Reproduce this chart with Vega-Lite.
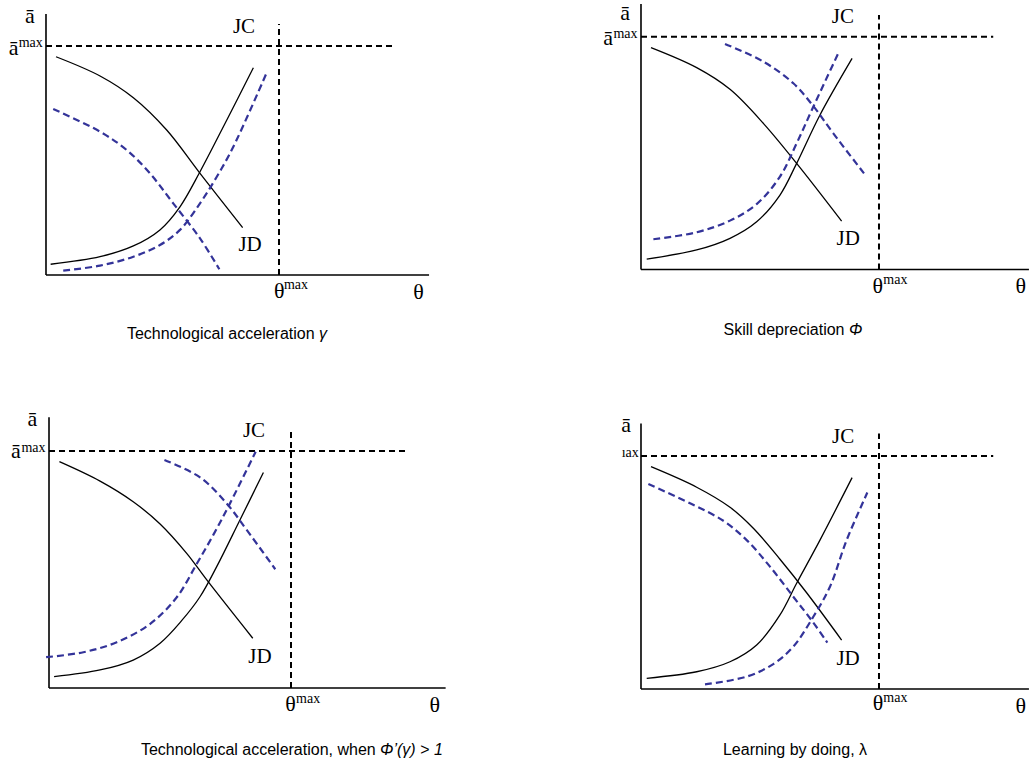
{
  "$schema": "https://vega.github.io/schema/vega-lite/v6.json",
  "padding": 0,
  "spacing": 0,
  "config": {"view": {"stroke": null}, "concat": {"spacing": 0}},
  "data": {"values": [
    {"p":1,"role":"axis","x":0,"y":0,"x2":0,"y2":1.14},
    {"p":1,"role":"axis","x":0,"y":0,"x2":1.644,"y2":0},
    {"p":1,"role":"guide","x":0,"y":1,"x2":1.485,"y2":1},
    {"p":1,"role":"guide","x":1,"y":0,"x2":1,"y2":1.096},
    {"p":2,"role":"axis","x":0,"y":0,"x2":0,"y2":1.14},
    {"p":2,"role":"axis","x":0,"y":0,"x2":1.63,"y2":0},
    {"p":2,"role":"guide","x":0,"y":1,"x2":1.48,"y2":1},
    {"p":2,"role":"guide","x":1,"y":0,"x2":1,"y2":1.093},
    {"p":3,"role":"axis","x":0,"y":0,"x2":0,"y2":1.142},
    {"p":3,"role":"axis","x":0,"y":0,"x2":1.639,"y2":0},
    {"p":3,"role":"guide","x":0,"y":1,"x2":1.481,"y2":1},
    {"p":3,"role":"guide","x":1,"y":0,"x2":1,"y2":1.096},
    {"p":4,"role":"axis","x":0,"y":0,"x2":0,"y2":1.14},
    {"p":4,"role":"axis","x":0,"y":0,"x2":1.63,"y2":0},
    {"p":4,"role":"guide","x":0,"y":1,"x2":1.48,"y2":1},
    {"p":4,"role":"guide","x":1,"y":0,"x2":1,"y2":1.097},

    {"p":1,"role":"black","id":"JD","x":0.043,"y":0.953},
    {"p":1,"role":"black","id":"JD","x":0.232,"y":0.869},
    {"p":1,"role":"black","id":"JD","x":0.375,"y":0.774},
    {"p":1,"role":"black","id":"JD","x":0.518,"y":0.633},
    {"p":1,"role":"black","id":"JD","x":0.661,"y":0.444},
    {"p":1,"role":"black","id":"JD","x":0.844,"y":0.207},
    {"p":1,"role":"black","id":"JC","x":0.020,"y":0.047},
    {"p":1,"role":"black","id":"JC","x":0.232,"y":0.080},
    {"p":1,"role":"black","id":"JC","x":0.375,"y":0.127},
    {"p":1,"role":"black","id":"JC","x":0.489,"y":0.197},
    {"p":1,"role":"black","id":"JC","x":0.575,"y":0.298},
    {"p":1,"role":"black","id":"JC","x":0.661,"y":0.451},
    {"p":1,"role":"black","id":"JC","x":0.776,"y":0.677},
    {"p":1,"role":"black","id":"JC","x":0.890,"y":0.905},
    {"p":1,"role":"blue","id":"JD","x":0.031,"y":0.725},
    {"p":1,"role":"blue","id":"JD","x":0.232,"y":0.626},
    {"p":1,"role":"blue","id":"JD","x":0.346,"y":0.546},
    {"p":1,"role":"blue","id":"JD","x":0.446,"y":0.444},
    {"p":1,"role":"blue","id":"JD","x":0.546,"y":0.313},
    {"p":1,"role":"blue","id":"JD","x":0.661,"y":0.160},
    {"p":1,"role":"blue","id":"JD","x":0.744,"y":0.025},
    {"p":1,"role":"blue","id":"JC","x":0.074,"y":0.019},
    {"p":1,"role":"blue","id":"JC","x":0.232,"y":0.041},
    {"p":1,"role":"blue","id":"JC","x":0.375,"y":0.080},
    {"p":1,"role":"blue","id":"JC","x":0.489,"y":0.131},
    {"p":1,"role":"blue","id":"JC","x":0.575,"y":0.197},
    {"p":1,"role":"blue","id":"JC","x":0.661,"y":0.313},
    {"p":1,"role":"blue","id":"JC","x":0.733,"y":0.429},
    {"p":1,"role":"blue","id":"JC","x":0.804,"y":0.560},
    {"p":1,"role":"blue","id":"JC","x":0.947,"y":0.883},

    {"p":2,"role":"black","id":"JD","x":0.042,"y":0.953},
    {"p":2,"role":"black","id":"JD","x":0.234,"y":0.867},
    {"p":2,"role":"black","id":"JD","x":0.374,"y":0.774},
    {"p":2,"role":"black","id":"JD","x":0.514,"y":0.628},
    {"p":2,"role":"black","id":"JD","x":0.654,"y":0.456},
    {"p":2,"role":"black","id":"JD","x":0.843,"y":0.208},
    {"p":2,"role":"black","id":"JC","x":0.024,"y":0.045},
    {"p":2,"role":"black","id":"JC","x":0.234,"y":0.084},
    {"p":2,"role":"black","id":"JC","x":0.374,"y":0.134},
    {"p":2,"role":"black","id":"JC","x":0.486,"y":0.205},
    {"p":2,"role":"black","id":"JC","x":0.584,"y":0.320},
    {"p":2,"role":"black","id":"JC","x":0.654,"y":0.456},
    {"p":2,"role":"black","id":"JC","x":0.752,"y":0.664},
    {"p":2,"role":"black","id":"JC","x":0.887,"y":0.907},
    {"p":2,"role":"blue","id":"JD","x":0.353,"y":0.969},
    {"p":2,"role":"blue","id":"JD","x":0.514,"y":0.893},
    {"p":2,"role":"blue","id":"JD","x":0.640,"y":0.800},
    {"p":2,"role":"blue","id":"JD","x":0.724,"y":0.702},
    {"p":2,"role":"blue","id":"JD","x":0.808,"y":0.585},
    {"p":2,"role":"blue","id":"JD","x":0.937,"y":0.413},
    {"p":2,"role":"blue","id":"JC","x":0.052,"y":0.130},
    {"p":2,"role":"blue","id":"JC","x":0.234,"y":0.160},
    {"p":2,"role":"blue","id":"JC","x":0.374,"y":0.210},
    {"p":2,"role":"blue","id":"JC","x":0.486,"y":0.281},
    {"p":2,"role":"blue","id":"JC","x":0.584,"y":0.399},
    {"p":2,"role":"blue","id":"JC","x":0.654,"y":0.542},
    {"p":2,"role":"blue","id":"JC","x":0.724,"y":0.699},
    {"p":2,"role":"blue","id":"JC","x":0.829,"y":0.929},

    {"p":3,"role":"black","id":"JD","x":0.043,"y":0.955},
    {"p":3,"role":"black","id":"JD","x":0.211,"y":0.873},
    {"p":3,"role":"black","id":"JD","x":0.348,"y":0.786},
    {"p":3,"role":"black","id":"JD","x":0.459,"y":0.692},
    {"p":3,"role":"black","id":"JD","x":0.569,"y":0.568},
    {"p":3,"role":"black","id":"JD","x":0.652,"y":0.456},
    {"p":3,"role":"black","id":"JD","x":0.842,"y":0.210},
    {"p":3,"role":"black","id":"JC","x":0.021,"y":0.048},
    {"p":3,"role":"black","id":"JC","x":0.211,"y":0.076},
    {"p":3,"role":"black","id":"JC","x":0.348,"y":0.118},
    {"p":3,"role":"black","id":"JC","x":0.459,"y":0.189},
    {"p":3,"role":"black","id":"JC","x":0.548,"y":0.284},
    {"p":3,"role":"black","id":"JC","x":0.624,"y":0.385},
    {"p":3,"role":"black","id":"JC","x":0.693,"y":0.512},
    {"p":3,"role":"black","id":"JC","x":0.789,"y":0.709},
    {"p":3,"role":"black","id":"JC","x":0.886,"y":0.909},
    {"p":3,"role":"blue","id":"JD","x":0.477,"y":0.962},
    {"p":3,"role":"blue","id":"JD","x":0.624,"y":0.889},
    {"p":3,"role":"blue","id":"JD","x":0.734,"y":0.779},
    {"p":3,"role":"blue","id":"JD","x":0.817,"y":0.667},
    {"p":3,"role":"blue","id":"JD","x":0.935,"y":0.501},
    {"p":3,"role":"blue","id":"JC","x":-0.012,"y":0.130},
    {"p":3,"role":"blue","id":"JC","x":0.142,"y":0.151},
    {"p":3,"role":"blue","id":"JC","x":0.280,"y":0.193},
    {"p":3,"role":"blue","id":"JC","x":0.417,"y":0.270},
    {"p":3,"role":"blue","id":"JC","x":0.528,"y":0.383},
    {"p":3,"role":"blue","id":"JC","x":0.610,"y":0.523},
    {"p":3,"role":"blue","id":"JC","x":0.679,"y":0.646},
    {"p":3,"role":"blue","id":"JC","x":0.748,"y":0.779},
    {"p":3,"role":"blue","id":"JC","x":0.854,"y":0.997},

    {"p":4,"role":"black","id":"JD","x":0.042,"y":0.954},
    {"p":4,"role":"black","id":"JD","x":0.234,"y":0.866},
    {"p":4,"role":"black","id":"JD","x":0.374,"y":0.780},
    {"p":4,"role":"black","id":"JD","x":0.472,"y":0.690},
    {"p":4,"role":"black","id":"JD","x":0.584,"y":0.557},
    {"p":4,"role":"black","id":"JD","x":0.696,"y":0.413},
    {"p":4,"role":"black","id":"JD","x":0.843,"y":0.210},
    {"p":4,"role":"black","id":"JC","x":0.024,"y":0.046},
    {"p":4,"role":"black","id":"JC","x":0.234,"y":0.074},
    {"p":4,"role":"black","id":"JC","x":0.374,"y":0.117},
    {"p":4,"role":"black","id":"JC","x":0.486,"y":0.189},
    {"p":4,"role":"black","id":"JC","x":0.584,"y":0.318},
    {"p":4,"role":"black","id":"JC","x":0.654,"y":0.454},
    {"p":4,"role":"black","id":"JC","x":0.752,"y":0.639},
    {"p":4,"role":"black","id":"JC","x":0.887,"y":0.907},
    {"p":4,"role":"blue","id":"JD","x":0.031,"y":0.880},
    {"p":4,"role":"blue","id":"JD","x":0.206,"y":0.797},
    {"p":4,"role":"blue","id":"JD","x":0.346,"y":0.722},
    {"p":4,"role":"blue","id":"JD","x":0.444,"y":0.639},
    {"p":4,"role":"blue","id":"JD","x":0.542,"y":0.525},
    {"p":4,"role":"blue","id":"JD","x":0.640,"y":0.396},
    {"p":4,"role":"blue","id":"JD","x":0.724,"y":0.285},
    {"p":4,"role":"blue","id":"JD","x":0.783,"y":0.199},
    {"p":4,"role":"blue","id":"JC","x":0.269,"y":0.020},
    {"p":4,"role":"blue","id":"JC","x":0.444,"y":0.053},
    {"p":4,"role":"blue","id":"JC","x":0.556,"y":0.107},
    {"p":4,"role":"blue","id":"JC","x":0.640,"y":0.182},
    {"p":4,"role":"blue","id":"JC","x":0.724,"y":0.310},
    {"p":4,"role":"blue","id":"JC","x":0.794,"y":0.439},
    {"p":4,"role":"blue","id":"JC","x":0.864,"y":0.639},
    {"p":4,"role":"blue","id":"JC","x":0.951,"y":0.843},

    {"p":1,"role":"big","x":0.850,"y":1.055,"t":"JC"},
    {"p":1,"role":"big","x":0.876,"y":0.106,"t":"JD"},
    {"p":1,"role":"sym","x":-0.069,"y":1.102,"t":"ā"},
    {"p":1,"role":"sym","x":-0.139,"y":0.961,"t":"ā"},
    {"p":1,"role":"sup","x":-0.117,"y":0.994,"t":"max"},
    {"p":1,"role":"sym","x":1.001,"y":-0.102,"t":"θ"},
    {"p":1,"role":"sup","x":1.021,"y":-0.063,"t":"max"},
    {"p":1,"role":"sym","x":1.599,"y":-0.105,"t":"θ"},
    {"p":1,"role":"capR","x":1.153,"y":-0.279,"t":"Technological acceleration"},
    {"p":1,"role":"capI","x":1.172,"y":-0.279,"t":"γ"},

    {"p":2,"role":"big","x":0.848,"y":1.058,"t":"JC"},
    {"p":2,"role":"big","x":0.871,"y":0.105,"t":"JD"},
    {"p":2,"role":"sym","x":-0.067,"y":1.072,"t":"ā"},
    {"p":2,"role":"sym","x":-0.138,"y":0.964,"t":"ā"},
    {"p":2,"role":"sup","x":-0.116,"y":0.996,"t":"max"},
    {"p":2,"role":"sym","x":0.995,"y":-0.099,"t":"θ"},
    {"p":2,"role":"sup","x":1.018,"y":-0.062,"t":"max"},
    {"p":2,"role":"sym","x":1.596,"y":-0.101,"t":"θ"},
    {"p":2,"role":"capR","x":0.855,"y":-0.281,"t":"Skill depreciation"},
    {"p":2,"role":"capI","x":0.874,"y":-0.281,"t":"Φ"},

    {"p":3,"role":"big","x":0.847,"y":1.058,"t":"JC"},
    {"p":3,"role":"big","x":0.872,"y":0.107,"t":"JD"},
    {"p":3,"role":"sym","x":-0.069,"y":1.105,"t":"ā"},
    {"p":3,"role":"sym","x":-0.137,"y":0.969,"t":"ā"},
    {"p":3,"role":"sup","x":-0.114,"y":0.997,"t":"max"},
    {"p":3,"role":"sym","x":0.998,"y":-0.097,"t":"θ"},
    {"p":3,"role":"sup","x":1.021,"y":-0.063,"t":"max"},
    {"p":3,"role":"sym","x":1.594,"y":-0.103,"t":"θ"},
    {"p":3,"role":"capR","x":1.350,"y":-0.283,"t":"Technological acceleration, when"},
    {"p":3,"role":"capI","x":1.368,"y":-0.283,"t":"Φ’(γ) > 1"},

    {"p":4,"role":"big","x":0.849,"y":1.055,"t":"JC"},
    {"p":4,"role":"big","x":0.870,"y":0.103,"t":"JD"},
    {"p":4,"role":"sym","x":-0.063,"y":1.102,"t":"ā"},
    {"p":4,"role":"sup","x":-0.081,"y":0.996,"t":"ıax"},
    {"p":4,"role":"sym","x":0.996,"y":-0.090,"t":"θ"},
    {"p":4,"role":"sup","x":1.018,"y":-0.056,"t":"max"},
    {"p":4,"role":"sym","x":1.596,"y":-0.103,"t":"θ"},
    {"p":4,"role":"capC","x":0.647,"y":-0.283,"t":"Learning by doing, λ"}
  ]},
  "vconcat": [
    {"spacing": 0, "hconcat": [
      {"width": 514, "height": 383,
       "transform": [{"filter": "datum.p == 1"}],
       "encoding": {
         "x": {"field": "x", "type": "quantitative", "scale": {"domain": [-0.1974, 2.0086], "nice": false, "zero": false}, "axis": null},
         "y": {"field": "y", "type": "quantitative", "scale": {"domain": [-0.4716, 1.2009], "nice": false, "zero": false}, "axis": null}
       },
       "layer": [
         {"transform": [{"filter": "datum.role == 'axis'"}], "mark": {"type": "rule", "color": "black", "strokeWidth": 1.6}, "encoding": {"x2": {"field": "x2"}, "y2": {"field": "y2"}}},
         {"transform": [{"filter": "datum.role == 'guide'"}], "mark": {"type": "rule", "color": "black", "strokeWidth": 2, "strokeDash": [6, 4]}, "encoding": {"x2": {"field": "x2"}, "y2": {"field": "y2"}}},
         {"transform": [{"filter": "datum.role == 'black'"}], "mark": {"type": "line", "color": "black", "strokeWidth": 1.3, "interpolate": "catmull-rom"}, "encoding": {"detail": {"field": "id"}}},
         {"transform": [{"filter": "datum.role == 'blue'"}], "mark": {"type": "line", "color": "#333399", "strokeWidth": 2.2, "strokeDash": [7, 4], "interpolate": "catmull-rom"}, "encoding": {"detail": {"field": "id"}}},
         {"transform": [{"filter": "datum.role == 'big'"}], "mark": {"type": "text", "font": "Liberation Serif", "fontSize": 21, "align": "center", "baseline": "alphabetic", "color": "black", "clip": true}, "encoding": {"text": {"field": "t"}}},
         {"transform": [{"filter": "datum.role == 'sym'"}], "mark": {"type": "text", "font": "Liberation Serif", "fontSize": 22, "align": "center", "baseline": "alphabetic", "color": "black", "clip": true}, "encoding": {"text": {"field": "t"}}},
         {"transform": [{"filter": "datum.role == 'sup'"}], "mark": {"type": "text", "font": "Liberation Serif", "fontSize": 14, "align": "left", "baseline": "alphabetic", "color": "black", "clip": true}, "encoding": {"text": {"field": "t"}}},
         {"transform": [{"filter": "datum.role == 'capR'"}], "mark": {"type": "text", "font": "Liberation Sans", "fontSize": 16, "align": "right", "baseline": "alphabetic", "color": "black", "clip": true}, "encoding": {"text": {"field": "t"}}},
         {"transform": [{"filter": "datum.role == 'capI'"}], "mark": {"type": "text", "font": "Liberation Sans", "fontSize": 16, "fontStyle": "italic", "align": "left", "baseline": "alphabetic", "color": "black", "clip": true}, "encoding": {"text": {"field": "t"}}},
         {"transform": [{"filter": "datum.role == 'capC'"}], "mark": {"type": "text", "font": "Liberation Sans", "fontSize": 16, "align": "center", "baseline": "alphabetic", "color": "black", "clip": true}, "encoding": {"text": {"field": "t"}}}
       ]},
      {"width": 515, "height": 383,
       "transform": [{"filter": "datum.p == 2"}],
       "encoding": {
         "x": {"field": "x", "type": "quantitative", "scale": {"domain": [-0.5336, 1.6303], "nice": false, "zero": false}, "axis": null},
         "y": {"field": "y", "type": "quantitative", "scale": {"domain": [-0.4875, 1.1577], "nice": false, "zero": false}, "axis": null}
       },
       "layer": [
         {"transform": [{"filter": "datum.role == 'axis'"}], "mark": {"type": "rule", "color": "black", "strokeWidth": 1.6, "clip": true}, "encoding": {"x2": {"field": "x2"}, "y2": {"field": "y2"}}},
         {"transform": [{"filter": "datum.role == 'guide'"}], "mark": {"type": "rule", "color": "black", "strokeWidth": 2, "strokeDash": [6, 4]}, "encoding": {"x2": {"field": "x2"}, "y2": {"field": "y2"}}},
         {"transform": [{"filter": "datum.role == 'black'"}], "mark": {"type": "line", "color": "black", "strokeWidth": 1.3, "interpolate": "catmull-rom"}, "encoding": {"detail": {"field": "id"}}},
         {"transform": [{"filter": "datum.role == 'blue'"}], "mark": {"type": "line", "color": "#333399", "strokeWidth": 2.2, "strokeDash": [7, 4], "interpolate": "catmull-rom"}, "encoding": {"detail": {"field": "id"}}},
         {"transform": [{"filter": "datum.role == 'big'"}], "mark": {"type": "text", "font": "Liberation Serif", "fontSize": 21, "align": "center", "baseline": "alphabetic", "color": "black", "clip": true}, "encoding": {"text": {"field": "t"}}},
         {"transform": [{"filter": "datum.role == 'sym'"}], "mark": {"type": "text", "font": "Liberation Serif", "fontSize": 22, "align": "center", "baseline": "alphabetic", "color": "black", "clip": true}, "encoding": {"text": {"field": "t"}}},
         {"transform": [{"filter": "datum.role == 'sup'"}], "mark": {"type": "text", "font": "Liberation Serif", "fontSize": 14, "align": "left", "baseline": "alphabetic", "color": "black", "clip": true}, "encoding": {"text": {"field": "t"}}},
         {"transform": [{"filter": "datum.role == 'capR'"}], "mark": {"type": "text", "font": "Liberation Sans", "fontSize": 16, "align": "right", "baseline": "alphabetic", "color": "black", "clip": true}, "encoding": {"text": {"field": "t"}}},
         {"transform": [{"filter": "datum.role == 'capI'"}], "mark": {"type": "text", "font": "Liberation Sans", "fontSize": 16, "fontStyle": "italic", "align": "left", "baseline": "alphabetic", "color": "black", "clip": true}, "encoding": {"text": {"field": "t"}}},
         {"transform": [{"filter": "datum.role == 'capC'"}], "mark": {"type": "text", "font": "Liberation Sans", "fontSize": 16, "align": "center", "baseline": "alphabetic", "color": "black", "clip": true}, "encoding": {"text": {"field": "t"}}}
       ]}
    ]},
    {"spacing": 0, "hconcat": [
      {"width": 514, "height": 383,
       "transform": [{"filter": "datum.p == 3"}],
       "encoding": {
         "x": {"field": "x", "type": "quantitative", "scale": {"domain": [-0.2025, 1.9215], "nice": false, "zero": false}, "axis": null},
         "y": {"field": "y", "type": "quantitative", "scale": {"domain": [-0.3291, 1.2869], "nice": false, "zero": false}, "axis": null}
       },
       "layer": [
         {"transform": [{"filter": "datum.role == 'axis'"}], "mark": {"type": "rule", "color": "black", "strokeWidth": 1.6}, "encoding": {"x2": {"field": "x2"}, "y2": {"field": "y2"}}},
         {"transform": [{"filter": "datum.role == 'guide'"}], "mark": {"type": "rule", "color": "black", "strokeWidth": 2, "strokeDash": [6, 4]}, "encoding": {"x2": {"field": "x2"}, "y2": {"field": "y2"}}},
         {"transform": [{"filter": "datum.role == 'black'"}], "mark": {"type": "line", "color": "black", "strokeWidth": 1.3, "interpolate": "catmull-rom"}, "encoding": {"detail": {"field": "id"}}},
         {"transform": [{"filter": "datum.role == 'blue'"}], "mark": {"type": "line", "color": "#333399", "strokeWidth": 2.2, "strokeDash": [7, 4], "interpolate": "catmull-rom"}, "encoding": {"detail": {"field": "id"}}},
         {"transform": [{"filter": "datum.role == 'big'"}], "mark": {"type": "text", "font": "Liberation Serif", "fontSize": 21, "align": "center", "baseline": "alphabetic", "color": "black", "clip": true}, "encoding": {"text": {"field": "t"}}},
         {"transform": [{"filter": "datum.role == 'sym'"}], "mark": {"type": "text", "font": "Liberation Serif", "fontSize": 22, "align": "center", "baseline": "alphabetic", "color": "black", "clip": true}, "encoding": {"text": {"field": "t"}}},
         {"transform": [{"filter": "datum.role == 'sup'"}], "mark": {"type": "text", "font": "Liberation Serif", "fontSize": 14, "align": "left", "baseline": "alphabetic", "color": "black", "clip": true}, "encoding": {"text": {"field": "t"}}},
         {"transform": [{"filter": "datum.role == 'capR'"}], "mark": {"type": "text", "font": "Liberation Sans", "fontSize": 16, "align": "right", "baseline": "alphabetic", "color": "black", "clip": true}, "encoding": {"text": {"field": "t"}}},
         {"transform": [{"filter": "datum.role == 'capI'"}], "mark": {"type": "text", "font": "Liberation Sans", "fontSize": 16, "fontStyle": "italic", "align": "left", "baseline": "alphabetic", "color": "black", "clip": true}, "encoding": {"text": {"field": "t"}}},
         {"transform": [{"filter": "datum.role == 'capC'"}], "mark": {"type": "text", "font": "Liberation Sans", "fontSize": 16, "align": "center", "baseline": "alphabetic", "color": "black", "clip": true}, "encoding": {"text": {"field": "t"}}}
       ]},
      {"width": 515, "height": 383,
       "transform": [{"filter": "datum.p == 4"}],
       "encoding": {
         "x": {"field": "x", "type": "quantitative", "scale": {"domain": [-0.5336, 1.6303], "nice": false, "zero": false}, "axis": null},
         "y": {"field": "y", "type": "quantitative", "scale": {"domain": [-0.3305, 1.3133], "nice": false, "zero": false}, "axis": null}
       },
       "layer": [
         {"transform": [{"filter": "datum.role == 'axis'"}], "mark": {"type": "rule", "color": "black", "strokeWidth": 1.6, "clip": true}, "encoding": {"x2": {"field": "x2"}, "y2": {"field": "y2"}}},
         {"transform": [{"filter": "datum.role == 'guide'"}], "mark": {"type": "rule", "color": "black", "strokeWidth": 2, "strokeDash": [6, 4]}, "encoding": {"x2": {"field": "x2"}, "y2": {"field": "y2"}}},
         {"transform": [{"filter": "datum.role == 'black'"}], "mark": {"type": "line", "color": "black", "strokeWidth": 1.3, "interpolate": "catmull-rom"}, "encoding": {"detail": {"field": "id"}}},
         {"transform": [{"filter": "datum.role == 'blue'"}], "mark": {"type": "line", "color": "#333399", "strokeWidth": 2.2, "strokeDash": [7, 4], "interpolate": "catmull-rom"}, "encoding": {"detail": {"field": "id"}}},
         {"transform": [{"filter": "datum.role == 'big'"}], "mark": {"type": "text", "font": "Liberation Serif", "fontSize": 21, "align": "center", "baseline": "alphabetic", "color": "black", "clip": true}, "encoding": {"text": {"field": "t"}}},
         {"transform": [{"filter": "datum.role == 'sym'"}], "mark": {"type": "text", "font": "Liberation Serif", "fontSize": 22, "align": "center", "baseline": "alphabetic", "color": "black", "clip": true}, "encoding": {"text": {"field": "t"}}},
         {"transform": [{"filter": "datum.role == 'sup'"}], "mark": {"type": "text", "font": "Liberation Serif", "fontSize": 14, "align": "left", "baseline": "alphabetic", "color": "black", "clip": true}, "encoding": {"text": {"field": "t"}}},
         {"transform": [{"filter": "datum.role == 'capR'"}], "mark": {"type": "text", "font": "Liberation Sans", "fontSize": 16, "align": "right", "baseline": "alphabetic", "color": "black", "clip": true}, "encoding": {"text": {"field": "t"}}},
         {"transform": [{"filter": "datum.role == 'capI'"}], "mark": {"type": "text", "font": "Liberation Sans", "fontSize": 16, "fontStyle": "italic", "align": "left", "baseline": "alphabetic", "color": "black", "clip": true}, "encoding": {"text": {"field": "t"}}},
         {"transform": [{"filter": "datum.role == 'capC'"}], "mark": {"type": "text", "font": "Liberation Sans", "fontSize": 16, "align": "center", "baseline": "alphabetic", "color": "black", "clip": true}, "encoding": {"text": {"field": "t"}}}
       ]}
    ]}
  ]
}
